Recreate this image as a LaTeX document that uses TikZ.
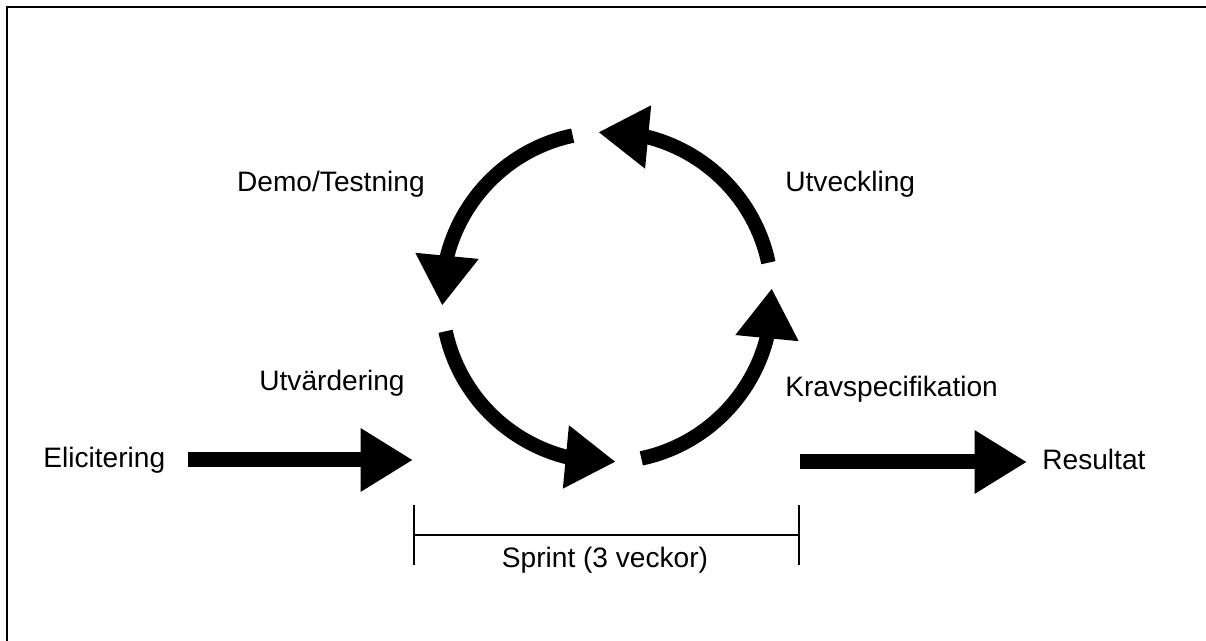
\documentclass[tikz,border=0pt]{standalone}
\usepackage{fontspec}
\setmainfont{Liberation Sans}
\usetikzlibrary{arrows.meta,bending}
\tikzset{
  lbl/.style={inner sep=0pt,font=\fontsize{16}{19}\selectfont},
  ring/.style={line width=0.29cm,-{Triangle[length=1cm,width=1.2cm]}},
  fat/.style={line width=0.3cm,-{Triangle[length=1.05cm,width=1.2cm]}}
}
\begin{document}
\begin{tikzpicture}[x=0.02cm,y=0.02cm]
\useasboundingbox (0,0) rectangle (1206,641);
\draw[line width=0.04cm] (7,0) |- (1206,634);
\coordinate (c) at (607,344);
\foreach \a in {12,102,192,282}
  \draw[ring] (c) ++(\a:165) arc (\a:\a+81:165);
\node[lbl,anchor=base east] (demo) at (425,449) {Demo/Testning};
\node[lbl,anchor=base west] (utv) at (785,449) {Utveckling};
\node[lbl,anchor=base east] (utvard) at (405,250) {Utvärdering};
\node[lbl,anchor=base west] (krav) at (785,244) {Kravspecifikation};
\node[lbl,anchor=base west] (elic) at (43,173) {Elicitering};
\node[lbl,anchor=base west] (res) at (1042,171) {Resultat};
\coordinate (e1) at (188,181);
\coordinate (e2) at (413,181);
\draw[fat] (e1) -- (e2);
\coordinate (r1) at (800,179);
\coordinate (r2) at (1027,179);
\draw[fat] (r1) -- (r2);
\coordinate (sl) at (414,106);
\coordinate (sr) at (799,106);
\draw[line width=0.035cm] (sl) -- (sr);
\draw[line width=0.035cm] ([yshift=0.6cm]sl) -- ([yshift=-0.6cm]sl);
\draw[line width=0.035cm] ([yshift=0.6cm]sr) -- ([yshift=-0.6cm]sr);
\node[lbl,anchor=base] (sprint) at (605,73) {Sprint (3 veckor)};
\end{tikzpicture}
\end{document}
